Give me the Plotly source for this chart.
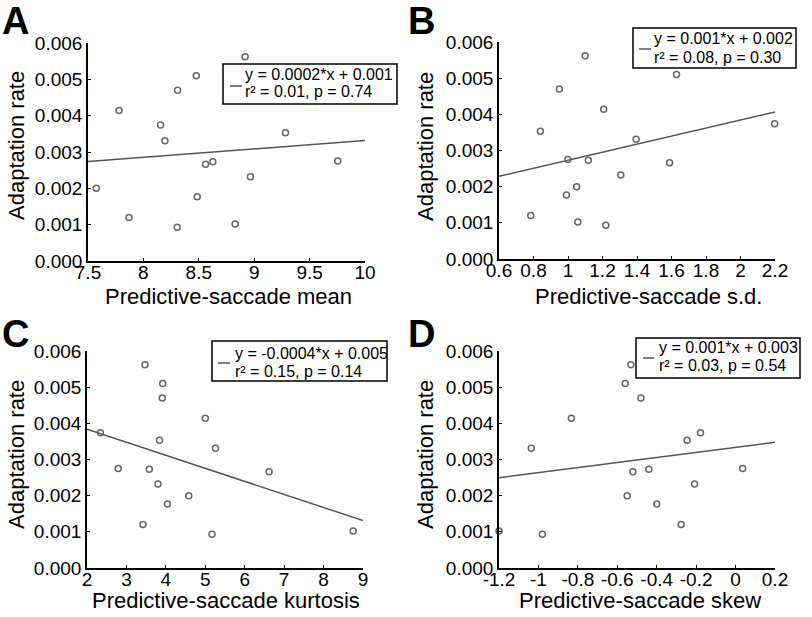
import numpy as np
import plotly.graph_objects as go

W, H = 812, 617

# ---- data (one point per subject) ----
adaptation_rate = [0.00200, 0.00414, 0.00120, 0.00374, 0.00331, 0.00470, 0.00093, 0.00510,
                   0.00177, 0.00266, 0.00273, 0.00102, 0.00562, 0.00232, 0.00353, 0.00275]
sacc_mean = [7.575, 7.78, 7.87, 8.155, 8.194, 8.308, 8.305, 8.477,
             8.486, 8.561, 8.627, 8.828, 8.918, 8.966, 9.282, 9.754]
sacc_sd = [1.05, 1.207, 0.784, 2.198, 1.395, 0.95, 1.219, 1.629,
           0.991, 1.589, 1.118, 1.057, 1.099, 1.306, 0.84, 0.999]
sacc_kurtosis = [4.58, 5.00, 3.42, 2.34, 5.26, 3.91, 5.17, 3.92,
                 4.04, 6.62, 3.58, 8.75, 3.47, 3.80, 3.84, 2.79]
sacc_skew = [-0.55, -0.833, -0.276, -0.178, -1.036, -0.48, -0.98, -0.56,
             -0.40, -0.521, -0.44, -1.2, -0.531, -0.208, -0.246, 0.036]

y_ticks = [0.000, 0.001, 0.002, 0.003, 0.004, 0.005, 0.006]
y_ticklabels = ["0.000", "0.001", "0.002", "0.003", "0.004", "0.005", "0.006"]

mean_ticks = [7.5, 8, 8.5, 9, 9.5, 10]
mean_ticklabels = ["7.5", "8", "8.5", "9", "9.5", "10"]
sd_ticks = [0.6, 0.8, 1.0, 1.2, 1.4, 1.6, 1.8, 2.0, 2.2]
sd_ticklabels = ["0.6", "0.8", "1", "1.2", "1.4", "1.6", "1.8", "2", "2.2"]
kurt_ticks = [2, 3, 4, 5, 6, 7, 8, 9]
kurt_ticklabels = ["2", "3", "4", "5", "6", "7", "8", "9"]
skew_ticks = [-1.2, -1.0, -0.8, -0.6, -0.4, -0.2, 0.0, 0.2]
skew_ticklabels = ["-1.2", "-1", "-0.8", "-0.6", "-0.4", "-0.2", "0", "0.2"]

fit_texts = [
    ("y = 0.0002*x + 0.001", "r² = 0.01, p = 0.74"),
    ("y = 0.001*x + 0.002", "r² = 0.08, p = 0.30"),
    ("y = -0.0004*x + 0.005", "r² = 0.15, p = 0.14"),
    ("y = 0.001*x + 0.003", "r² = 0.03, p = 0.54"),
]
panel_letters = ["A", "B", "C", "D"]
x_titles = ["Predictive-saccade mean", "Predictive-saccade s.d.",
            "Predictive-saccade kurtosis", "Predictive-saccade skew"]
y_title = "Adaptation rate"


def xp(px):
    return px / W


def yp(py):
    return 1 - py / H


# layout geometry (pixels)
panels = [
    dict(x=sacc_mean, ticks=mean_ticks, labels=mean_ticklabels,
         ax=(88, 365), ay=(43, 261), box=(223, 64, 397, 104), tx=243, l1=74, l2=91,
         samp=(230, 242, 86), letter=(0, 21), ytit=(16, 146), xtit=(228, 296)),
    dict(x=sacc_sd, ticks=sd_ticks, labels=sd_ticklabels,
         ax=(499, 775), ay=(42, 259), box=(633, 28, 796, 68), tx=652, l1=38, l2=57,
         samp=(639, 651, 49), letter=(406, 21), ytit=(425, 147), xtit=(648, 296)),
    dict(x=sacc_kurtosis, ticks=kurt_ticks, labels=kurt_ticklabels,
         ax=(87, 363), ay=(351, 568), box=(212, 341, 387, 381), tx=233, l1=353, l2=371,
         samp=(218, 230, 363), letter=(0, 334), ytit=(16, 455), xtit=(226, 600)),
    dict(x=sacc_skew, ticks=skew_ticks, labels=skew_ticklabels,
         ax=(499, 775), ay=(351, 568), box=(636, 338, 800, 378), tx=657, l1=348, l2=366,
         samp=(643, 654, 358), letter=(406, 334), ytit=(425, 455), xtit=(640, 600)),
]

FONT = "Arial, Liberation Sans, Helvetica, sans-serif"
fig = go.Figure()
annotations = []
shapes = []
layout_axes = {}

for i, p in enumerate(panels):
    k = "" if i == 0 else str(i + 1)
    xa, ya = "x" + k, "y" + k
    xr = [p["ticks"][0], p["ticks"][-1]]
    x = np.array(p["x"])
    y = np.array(adaptation_rate)
    slope, icpt = np.polyfit(x, y, 1)
    xl = np.array(xr, dtype=float)
    fig.add_trace(go.Scatter(x=xl, y=slope * xl + icpt, mode="lines",
                             line=dict(color="#555555", width=1.5),
                             xaxis=xa, yaxis=ya, showlegend=False, hoverinfo="skip"))
    fig.add_trace(go.Scatter(x=p["x"], y=adaptation_rate, mode="markers",
                             marker=dict(symbol="circle-open", size=6, color="#666666",
                                         line=dict(width=1.5, color="#666666")),
                             xaxis=xa, yaxis=ya, showlegend=False, cliponaxis=False))
    common = dict(showgrid=False, zeroline=False, showline=True, linecolor="black",
                  linewidth=1.6, ticks="inside", ticklen=3, tickwidth=1.2,
                  tickcolor="black", tickfont=dict(size=19, color="black", family=FONT),
                  mirror=False, automargin=False)
    layout_axes["xaxis" + k] = dict(domain=[xp(p["ax"][0]), xp(p["ax"][1])], range=xr,
                                    tickvals=p["ticks"], ticktext=p["labels"],
                                    anchor=ya, ticklabelstandoff=-7, **common)
    layout_axes["yaxis" + k] = dict(domain=[yp(p["ay"][1]), yp(p["ay"][0])],
                                    range=[0, 0.006], tickvals=y_ticks,
                                    ticktext=y_ticklabels, anchor=xa,
                                    ticklabelstandoff=0, **common)
    # legend box
    b = p["box"]
    shapes.append(dict(type="rect", xref="paper", yref="paper", x0=xp(b[0]), x1=xp(b[2]),
                       y0=yp(b[3]), y1=yp(b[1]), line=dict(color="black", width=1.5),
                       fillcolor="white", layer="above"))
    s = p["samp"]
    shapes.append(dict(type="line", xref="paper", yref="paper", x0=xp(s[0]), x1=xp(s[1]),
                       y0=yp(s[2]), y1=yp(s[2]), line=dict(color="#555555", width=1.5),
                       layer="above"))
    for txt, yy in zip(fit_texts[i], (p["l1"], p["l2"])):
        annotations.append(dict(xref="paper", yref="paper", x=xp(p["tx"]), y=yp(yy),
                                xanchor="left", yanchor="middle", showarrow=False,
                                text=txt, font=dict(size=16, color="black", family=FONT)))
    # panel letter
    annotations.append(dict(xref="paper", yref="paper", x=xp(p["letter"][0]),
                            y=yp(p["letter"][1]), xanchor="left", yanchor="middle",
                            showarrow=False, text="<b>" + panel_letters[i] + "</b>",
                            font=dict(size=38, color="black", family=FONT)))
    # axis titles
    annotations.append(dict(xref="paper", yref="paper", x=xp(p["ytit"][0]),
                            y=yp(p["ytit"][1]), xanchor="center", yanchor="middle",
                            showarrow=False, text=y_title, textangle=-90,
                            font=dict(size=22, color="black", family=FONT)))
    annotations.append(dict(xref="paper", yref="paper", x=xp(p["xtit"][0]),
                            y=yp(p["xtit"][1]), xanchor="center", yanchor="middle",
                            showarrow=False, text=x_titles[i],
                            font=dict(size=22, color="black", family=FONT)))

fig.update_layout(width=W, height=H, margin=dict(l=0, r=0, t=0, b=0, autoexpand=False),
                  paper_bgcolor="white", plot_bgcolor="white",
                  font=dict(family=FONT, color="black"),
                  annotations=annotations, shapes=shapes, **layout_axes)

fig.write_html("out.html", config={"displayModeBar": False},
               post_script="document.body.style.margin='0';"
                           "document.body.style.overflow='hidden';")
